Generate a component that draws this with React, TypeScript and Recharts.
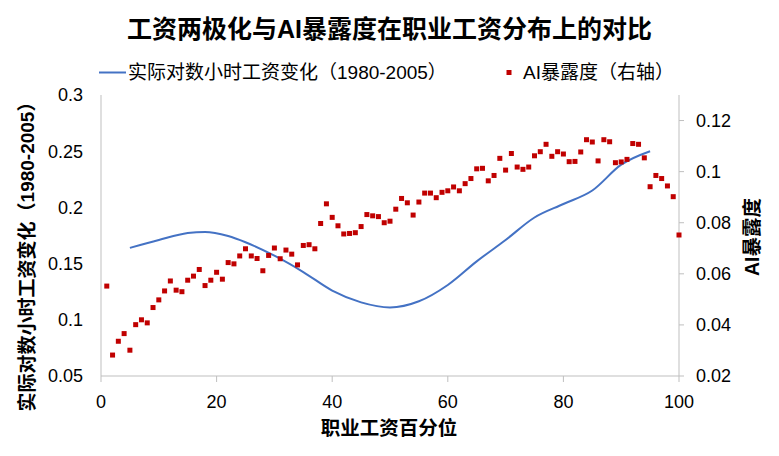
import { ComposedChart, Line, Scatter, XAxis, YAxis } from "recharts";

// AI exposure by occupational wage percentile (1..100), right axis
const exposure = [
  0.0552, 0.0282, 0.0336, 0.0366, 0.0301, 0.0401, 0.042, 0.0408, 0.0468, 0.0498,
  0.0533, 0.0572, 0.0536, 0.053, 0.0575, 0.0591, 0.0617, 0.0554, 0.0575, 0.0606,
  0.0579, 0.0644, 0.0639, 0.067, 0.0698, 0.067, 0.066, 0.0612, 0.0672, 0.0701,
  0.0659, 0.0693, 0.0677, 0.0635, 0.0711, 0.0714, 0.0698, 0.0797, 0.0874, 0.0821,
  0.0788, 0.0756, 0.0758, 0.0761, 0.0785, 0.0832, 0.0827, 0.0824, 0.08, 0.0806,
  0.0853, 0.0895, 0.0878, 0.083, 0.0881, 0.0916, 0.0916, 0.0898, 0.0919, 0.0925,
  0.094, 0.0925, 0.0953, 0.0973, 0.1011, 0.1013, 0.0964, 0.0985, 0.1052, 0.1006,
  0.1071, 0.1018, 0.1009, 0.1018, 0.1062, 0.1078, 0.1107, 0.106, 0.1078, 0.1069,
  0.1039, 0.104, 0.1077, 0.1125, 0.1116, 0.1042, 0.1125, 0.1117, 0.1035, 0.1038,
  0.1048, 0.111, 0.1107, 0.1054, 0.0941, 0.0985, 0.0973, 0.0944, 0.0902, 0.0752,
];

// real log hourly wage change 1980-2005, left axis
const wagePct = [5, 10, 15, 18, 22, 25, 30, 35, 40, 45, 50, 55, 60, 65, 70, 75, 80, 85, 90, 95];
const wageChange = [
  0.164, 0.171, 0.1772, 0.1782, 0.1745, 0.169, 0.157, 0.1425, 0.126, 0.1155,
  0.111, 0.1165, 0.131, 0.152, 0.171, 0.191, 0.203, 0.215, 0.238, 0.25,
];

const xTicks = [0, 20, 40, 60, 80, 100];
const leftTicks = [0.05, 0.1, 0.15, 0.2, 0.25, 0.3];
const rightTicks = [0.02, 0.04, 0.06, 0.08, 0.1, 0.12];

const exposureData = exposure.map((v, i) => ({ pct: i + 1, exposure: v }));
const wageData = wagePct.map((p, i) => ({ pct: p, wage: wageChange[i] }));

const FONT = '"Liberation Sans", Arial, "Noto Sans CJK SC", sans-serif';
const AXIS = "#bfbfbf";
const BLUE = "#4472c4";
const RED = "#c00000";

const tickStyle = { fill: "#000", fontSize: 18, fontFamily: FONT };

const Square = (props: any) => {
  const { cx, cy } = props;
  if (cx == null || cy == null) return null;
  return <rect x={cx - 2.5} y={cy - 2.5} width={5} height={5} fill={RED} />;
};

export default function App() {
  return (
    <div style={{ position: "relative", width: 779, height: 456, background: "#fff" }}>
      <style>{"body{margin:0}"}</style>
      <ComposedChart
        width={779}
        height={456}
        margin={{ top: 95, right: 40, bottom: 50, left: 41 }}
      >
        <XAxis
          type="number"
          dataKey="pct"
          domain={[0, 100]}
          ticks={xTicks}
          interval={0}
          height={30}
          stroke={AXIS}
          tickSize={6}
          tickMargin={13}
          tick={tickStyle}
        />
        <YAxis
          yAxisId="left"
          domain={[0.05, 0.3]}
          ticks={leftTicks}
          interval={0}
          width={60}
          stroke={AXIS}
          tickLine={false}
          tickSize={0}
          tickMargin={18}
          tick={tickStyle}
        />
        <YAxis
          yAxisId="right"
          orientation="right"
          domain={[0.02, 0.13]}
          ticks={rightTicks}
          interval={0}
          width={60}
          stroke={AXIS}
          tickSize={5}
          tickMargin={12}
          tick={tickStyle}
        />
        <Line
          yAxisId="left"
          data={wageData}
          dataKey="wage"
          type="monotone"
          stroke={BLUE}
          strokeWidth={2}
          dot={false}
          isAnimationActive={false}
        />
        <Scatter
          yAxisId="right"
          data={exposureData}
          dataKey="exposure"
          shape={<Square />}
          isAnimationActive={false}
        />
      </ComposedChart>

      <svg
        width={779}
        height={456}
        style={{ position: "absolute", left: 0, top: 0, pointerEvents: "none" }}
        fontFamily={FONT}
      >
        <text x={389.5} y={29} textAnchor="middle" dominantBaseline="central" fontSize={25} fontWeight="bold">
          工资两极化与AI暴露度在职业工资分布上的对比
        </text>

        <line x1={99} y1={72.5} x2={126} y2={72.5} stroke={BLUE} strokeWidth={2} />
        <text x={128} y={72.5} dominantBaseline="central" fontSize={19}>
          实际对数小时工资变化（1980-2005）
        </text>
        <rect x={506.5} y={70} width={5} height={5} fill={RED} />
        <text x={523} y={72.5} dominantBaseline="central" fontSize={19}>
          AI暴露度（右轴）
        </text>

        <text
          transform="translate(27,252) rotate(-90)"
          textAnchor="middle"
          dominantBaseline="central"
          fontSize={19}
          fontWeight="bold"
        >
          实际对数小时工资变化（1980-2005）
        </text>
        <text
          transform="translate(752,237) rotate(-90)"
          textAnchor="middle"
          dominantBaseline="central"
          fontSize={19.5}
          fontWeight="bold"
        >
          AI暴露度
        </text>
        <text x={389} y={428} textAnchor="middle" dominantBaseline="central" fontSize={19.5} fontWeight="bold">
          职业工资百分位
        </text>
      </svg>
    </div>
  );
}
